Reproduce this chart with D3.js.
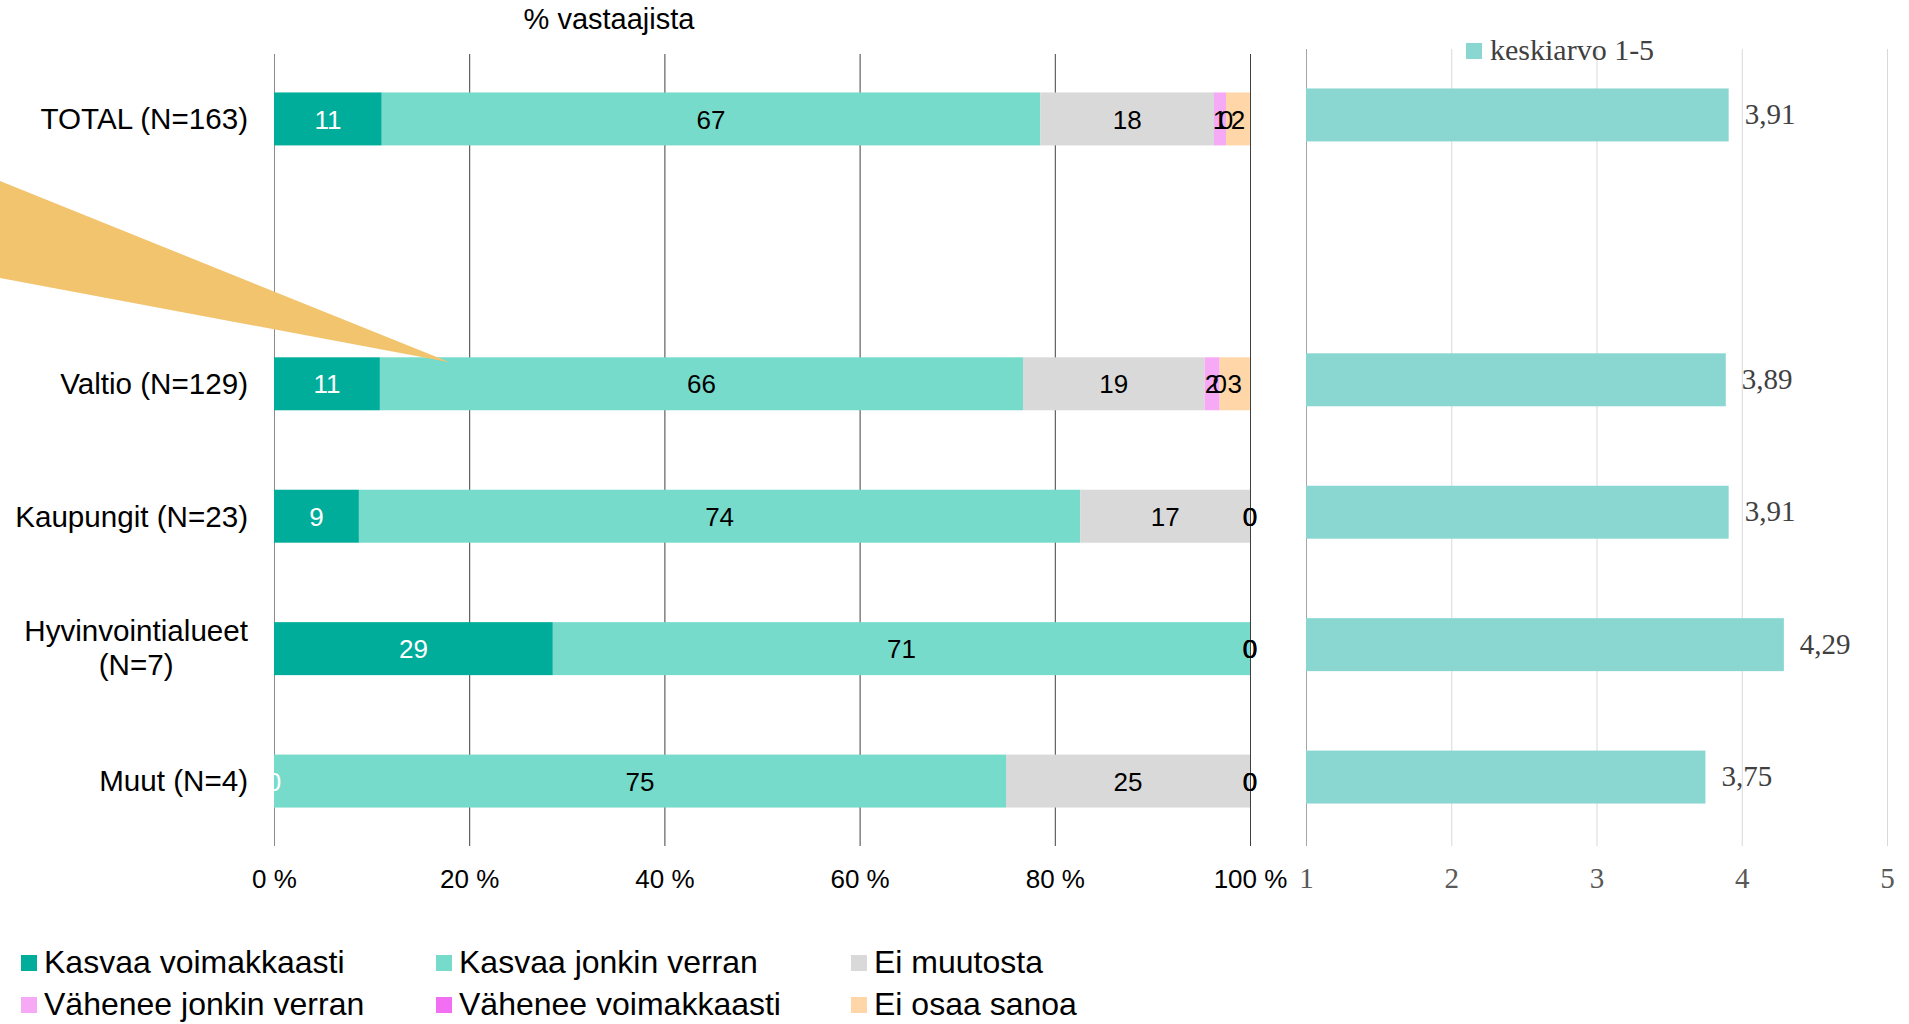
<!DOCTYPE html>
<html>
<head>
<meta charset="utf-8">
<script src="https://cdn.jsdelivr.net/npm/d3@7"></script>
<style>
  body { margin: 0; background: #fff; }
  svg { display: block; }
</style>
</head>
<body>
<script>
// Categories (blank slot between TOTAL and Valtio, as in the original)
var categories = ["TOTAL (N=163)", " ", "Valtio (N=129)", "Kaupungit (N=23)", "Hyvinvointialueet\n(N=7)", "Muut (N=4)"];

// Shares of respondents, % (null = no bar)
var seriesNames = ["Kasvaa voimakkaasti", "Kasvaa jonkin verran", "Ei muutosta",
                   "Vähenee jonkin verran", "Vähenee voimakkaasti", "Ei osaa sanoa"];
var kasvaaVoimakkaasti = [11.04, null, 10.85, 8.70, 28.57, 0];
var kasvaaJonkinVerran = [67.48, null, 65.89, 73.91, 71.43, 75];
var eiMuutosta         = [17.79, null, 18.60, 17.39, 0, 25];
var vaheneeJonkinVerran = [1.23, null, 1.55, 0, 0, 0];
var vaheneeVoimakkaasti = [0, null, 0, 0, 0, 0];
var eiOsaaSanoa        = [2.45, null, 3.10, 0, 0, 0];

// Mean on 1-5 scale
var keskiarvo = [3.91, null, 3.89, 3.91, 4.29, 3.75];

var pctTicks = [0, 20, 40, 60, 80, 100];
var meanTicks = [1, 2, 3, 4, 5];

var colors = ["#00ad9b", "#76dbca", "#d9d9d9", "#f6aaf6", "#f26ef2", "#ffd6a8"];
var labelColors = ["#ffffff", "#000000", "#000000", "#000000", "#000000", "#000000"];
var meanColor = "#8ad7d2";

var sans = "'Liberation Sans', Arial, sans-serif";
var serif = "'Liberation Serif', 'Times New Roman', serif";

var W = 1909, H = 1024;
var svg = d3.select("body").append("svg").attr("width", W).attr("height", H);

var allSeries = [kasvaaVoimakkaasti, kasvaaJonkinVerran, eiMuutosta,
                 vaheneeJonkinVerran, vaheneeVoimakkaasti, eiOsaaSanoa];

// ---------- left chart: stacked 100 % bars ----------
var x = d3.scaleLinear().domain([0, 100]).range([274, 1250]);
var y = d3.scaleBand().domain(categories).range([13, 887]).padding(0.6);
var gridTop = 54, gridBottom = 846;

var xAxis = d3.axisBottom(x)
  .tickValues(pctTicks)
  .tickSize(-(gridBottom - gridTop))
  .tickPadding(24)
  .tickFormat(d => d + " %");

var gx = svg.append("g")
  .attr("transform", "translate(0," + gridBottom + ")")
  .call(xAxis);
gx.select(".domain").remove();
gx.selectAll(".tick line")
  .attr("stroke", d => d === 0 ? "#8c8c8c" : "#404040")
  .attr("stroke-width", 1);
gx.selectAll(".tick text")
  .attr("font-family", sans).attr("font-size", 26).attr("fill", "#000");

// stack rows
var rows = categories.map((c, i) => {
  var row = { cat: c };
  seriesNames.forEach((s, j) => { row[s] = allSeries[j][i] == null ? 0 : allSeries[j][i]; });
  row.empty = allSeries[0][i] == null;
  return row;
}).filter(r => !r.empty);

var stacked = d3.stack().keys(seriesNames)(rows);

var layers = svg.append("g").selectAll("g")
  .data(stacked).enter().append("g")
  .attr("fill", (d, i) => colors[i]);

layers.selectAll("rect")
  .data(d => d).enter().append("rect")
  .attr("x", d => x(d[0]))
  .attr("y", d => y(d.data.cat))
  .attr("width", d => x(d[1]) - x(d[0]))
  .attr("height", y.bandwidth());

var fmt0 = d3.format(".0f");
var segLabels = svg.append("g");
stacked.forEach((layer, i) => {
  segLabels.selectAll(null)
    .data(layer).enter().append("text")
    .attr("x", d => x((d[0] + d[1]) / 2))
    .attr("y", d => y(d.data.cat) + y.bandwidth() / 2)
    .attr("dy", "0.37em")
    .attr("text-anchor", "middle")
    .attr("font-family", sans).attr("font-size", 26)
    .attr("fill", labelColors[i])
    .text(d => fmt0(d[1] - d[0]));
});

// category labels
var catG = svg.append("g");
categories.forEach(c => {
  if (c.trim() === "") return;
  var lines = c.split("\n");
  var cy = y(c) + y.bandwidth() / 2;
  var t = catG.append("text")
    .attr("font-family", sans).attr("font-size", 29.6).attr("fill", "#000")
    .attr("text-anchor", lines.length > 1 ? "middle" : "end");
  if (lines.length === 1) {
    t.attr("x", 248).attr("y", cy).attr("dy", "0.35em").text(c);
  } else {
    lines.forEach((l, k) => {
      t.append("tspan").attr("x", 0).attr("y", cy - 8 + k * 34.5).text(l);
    });
    var w = t.node().getBBox().width;
    t.selectAll("tspan").attr("x", 248 - w / 2);
  }
});

// title
svg.append("text")
  .attr("x", 609).attr("y", 29)
  .attr("text-anchor", "middle")
  .attr("font-family", sans).attr("font-size", 29).attr("fill", "#000")
  .text("% vastaajista");

// ---------- right chart: mean bars ----------
var x2 = d3.scaleLinear().domain([1, 5]).range([1306, 1887]);
var y2 = d3.scaleBand().domain(categories).range([9, 883]).padding(0.6);
var grid2Top = 49;

var x2Axis = d3.axisBottom(x2)
  .tickValues(meanTicks)
  .tickSize(-(gridBottom - grid2Top))
  .tickPadding(21)
  .tickFormat(d3.format("d"));

var gx2 = svg.append("g")
  .attr("transform", "translate(0," + gridBottom + ")")
  .call(x2Axis);
gx2.select(".domain").remove();
gx2.selectAll(".tick line")
  .attr("stroke", d => d === 1 ? "#a6a6a6" : "#d9d9d9")
  .attr("stroke-width", 1);
gx2.selectAll(".tick text")
  .attr("font-family", serif).attr("font-size", 29).attr("fill", "#595959");

var meanData = categories.map((c, i) => ({ cat: c, v: keskiarvo[i] })).filter(d => d.v != null);
var fmtMean = v => d3.format(".2f")(v).replace(".", ",");

svg.append("g").selectAll("rect")
  .data(meanData).enter().append("rect")
  .attr("x", x2(1))
  .attr("y", d => y2(d.cat))
  .attr("width", d => x2(d.v) - x2(1))
  .attr("height", y2.bandwidth())
  .attr("fill", meanColor);

svg.append("g").selectAll("text")
  .data(meanData).enter().append("text")
  .attr("x", d => x2(d.v) + 16)
  .attr("y", d => y2(d.cat) + y2.bandwidth() / 2)
  .attr("dy", "0.32em")
  .attr("font-family", serif).attr("font-size", 29).attr("fill", "#404040")
  .text(d => fmtMean(d.v));

// right legend
svg.append("rect").attr("x", 1466).attr("y", 43).attr("width", 16).attr("height", 16).attr("fill", meanColor);
svg.append("text").attr("x", 1490).attr("y", 60)
  .attr("font-family", serif).attr("font-size", 30).attr("fill", "#404040")
  .text("keskiarvo 1-5");

// ---------- bottom legend ----------
var legX = [21, 436, 851], legY = [973, 1015];
var leg = svg.append("g");
seriesNames.forEach((s, i) => {
  var cx = legX[i % 3], by = legY[Math.floor(i / 3)];
  leg.append("rect").attr("x", cx).attr("y", by - 18).attr("width", 16).attr("height", 16).attr("fill", colors[i]);
  leg.append("text").attr("x", cx + 23).attr("y", by)
    .attr("font-family", sans).attr("font-size", 32).attr("fill", "#000")
    .text(s);
});

// ---------- callout shape pointing at Valtio bar ----------
var tipX = x(18), tipY = y("Valtio (N=129)") + 5;
svg.append("path")
  .attr("d", "M0,181 L" + tipX + "," + tipY + " L0,278 Z")
  .attr("fill", "#f2c46e");
</script>
</body>
</html>
